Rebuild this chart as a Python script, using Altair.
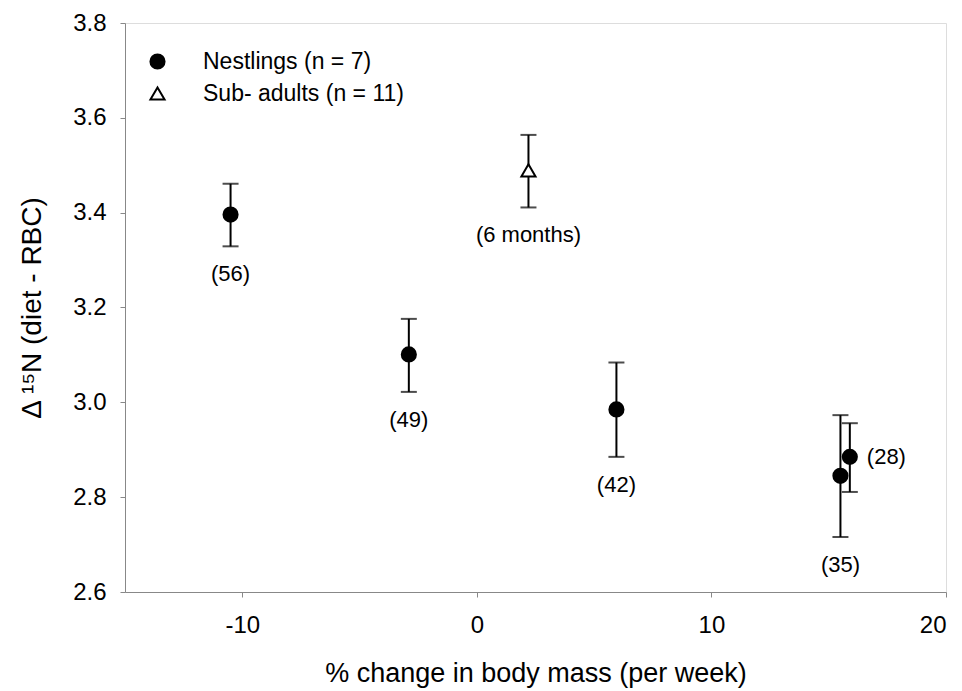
import altair as alt
import pandas as pd

# Data
groups = ["Nestlings (n = 7)"] * 5 + ["Sub- adults (n = 11)"]
x_change = [-10.5, -2.9, 5.95, 15.5, 15.9, 2.2]
y_mean = [3.396, 3.101, 2.985, 2.845, 2.885, 3.489]
y_low = [3.329, 3.022, 2.885, 2.716, 2.811, 3.411]
y_high = [3.461, 3.176, 3.084, 2.973, 2.956, 3.564]
labels = ["(56)", "(49)", "(42)", "(35)", "(28)", "(6 months)"]

x_ticks = [-10, 0, 10, 20]
y_ticks = [2.6, 2.8, 3.0, 3.2, 3.4, 3.6, 3.8]

df = pd.DataFrame({
    "group": groups,
    "x": x_change,
    "y": y_mean,
    "lo": y_low,
    "hi": y_high,
    "label": labels,
})

FONT = "Liberation Sans"
legend_groups = [groups[0], groups[-1]]

x_enc = alt.X("x:Q",
              scale=alt.Scale(domain=[-15, 20], nice=False, zero=False),
              axis=alt.Axis(values=x_ticks, title="% change in body mass (per week)",
                            labelExpr="datum.value + ''",
                            labelFontSize=24, titleFontSize=27, labelPadding=16,
                            titlePadding=23, grid=False, titleFontWeight="normal"))
y_enc = alt.Y("y:Q",
              scale=alt.Scale(domain=[2.6, 3.8], nice=False, zero=False),
              axis=alt.Axis(values=y_ticks, format=".1f",
                            title="Δ ¹⁵N (diet - RBC)",
                            labelFontSize=24, titleFontSize=28, labelPadding=14,
                            titlePadding=26, grid=False, titleFontWeight="normal"))


def make_legend():
    return alt.Legend(title=None, orient="none", legendX=21, legendY=27,
                      labelFontSize=23, labelFont=FONT, labelOffset=34, labelLimit=0,
                      labelColor="black",
                      symbolSize=200, symbolStrokeColor="black",
                      symbolStrokeWidth=2, rowPadding=8, padding=0)


base = alt.Chart(df)

bars = base.mark_rule(color="black", strokeWidth=2).encode(
    x=x_enc, y=alt.Y("lo:Q"), y2="hi:Q")
cap_hi = base.mark_tick(color="black", orient="horizontal", size=16, thickness=2).encode(
    x="x:Q", y="hi:Q")
cap_lo = base.mark_tick(color="black", orient="horizontal", size=16, thickness=2).encode(
    x="x:Q", y="lo:Q")

points = base.mark_point(filled=True, strokeWidth=2, opacity=1, size=200).encode(
    x="x:Q",
    y=y_enc,
    shape=alt.Shape("group:N",
                    scale=alt.Scale(domain=legend_groups, range=["circle", "triangle-up"]),
                    legend=make_legend()),
    fill=alt.Fill("group:N",
                  scale=alt.Scale(domain=legend_groups, range=["black", "white"]),
                  legend=make_legend()),
    stroke=alt.Stroke("group:N",
                      scale=alt.Scale(domain=legend_groups, range=["black", "black"]),
                      legend=make_legend()),
)

lab_below = base.transform_filter("datum.label != '(28)'").mark_text(
    fontSize=22, font=FONT, baseline="middle", align="center", dy=28, color="black"
).encode(x="x:Q", y="lo:Q", text="label:N")

lab_right = base.transform_filter("datum.label == '(28)'").mark_text(
    fontSize=22, font=FONT, baseline="middle", align="left", dx=17, color="black"
).encode(x="x:Q", y="y:Q", text="label:N")

chart = alt.layer(bars, cap_hi, cap_lo, points, lab_below, lab_right).properties(
    width=821,
    height=569,
    autosize=alt.AutoSizeParams(type="none"),
    padding={"left": 117, "top": 15, "right": 8, "bottom": 96},
).configure_view(
    stroke="black", strokeWidth=2
).configure_axis(
    domainColor="black", domainWidth=2, tickColor="black", tickWidth=2, tickSize=8,
    labelColor="black", titleColor="black", labelFont=FONT, titleFont=FONT,
    titleFontWeight="normal"
).configure(background="white")

chart.save("out.html", embed_options={"renderer": "svg", "actions": False})
